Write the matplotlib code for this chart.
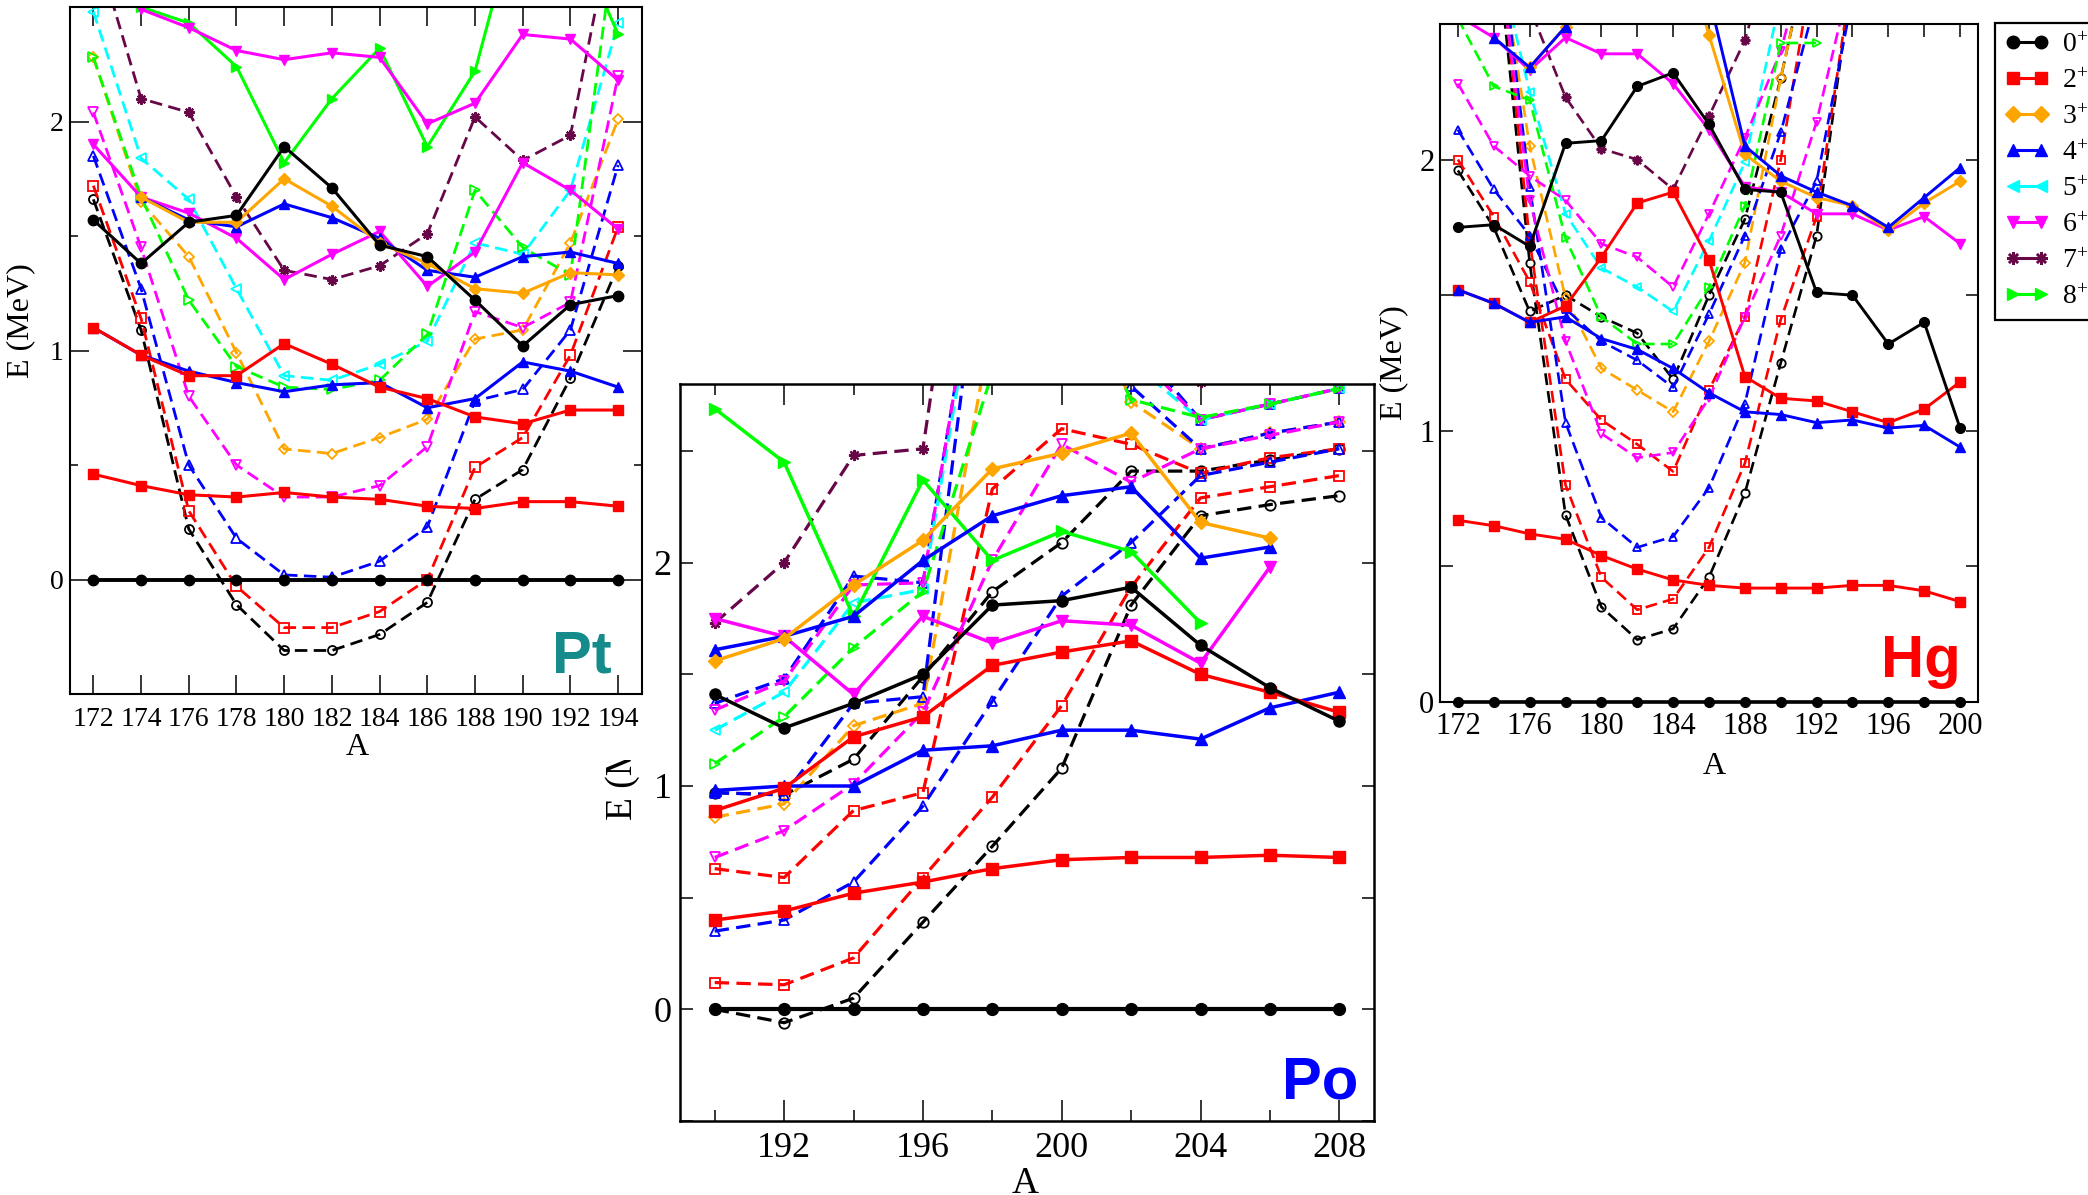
import numpy as np
import matplotlib
matplotlib.use("Agg")
import matplotlib.pyplot as plt
from matplotlib.lines import Line2D
from matplotlib.patches import Rectangle
from matplotlib.ticker import MultipleLocator

nan = np.nan

# ---------------- Pt ----------------
pt_A = [172, 174, 176, 178, 180, 182, 184, 186, 188, 190, 192, 194]
pt_g0 = [0, 0, 0, 0, 0, 0, 0, 0, 0, 0, 0, 0]
pt_0 = [1.57, 1.38, 1.56, 1.59, 1.89, 1.71, 1.46, 1.41, 1.22, 1.02, 1.20, 1.24]
pt_2a = [0.46, 0.41, 0.37, 0.36, 0.38, 0.36, 0.35, 0.32, 0.31, 0.34, 0.34, 0.32]
pt_2b = [1.10, 0.98, 0.89, 0.89, 1.03, 0.94, 0.84, 0.79, 0.71, 0.68, 0.74, 0.74]
pt_3 = [nan, 1.67, 1.56, 1.56, 1.75, 1.63, 1.47, 1.38, 1.27, 1.25, 1.34, 1.33]
pt_4a = [1.10, 0.98, 0.91, 0.86, 0.82, 0.85, 0.86, 0.75, 0.79, 0.95, 0.91, 0.84]
pt_4b = [nan, 1.67, 1.57, 1.54, 1.64, 1.58, 1.49, 1.35, 1.32, 1.41, 1.43, 1.38]
pt_6a = [1.90, 1.67, 1.60, 1.49, 1.31, 1.42, 1.52, 1.28, 1.43, 1.82, 1.70, 1.53]
pt_6b = [nan, 2.49, 2.41, 2.31, 2.27, 2.30, 2.28, 1.99, 2.08, 2.38, 2.36, 2.18]
pt_8 = [nan, 2.50, 2.43, 2.24, 1.82, 2.10, 2.32, 1.89, 2.22, 3.00, 2.86, 2.38]
pt_7 = [2.80, 2.10, 2.04, 1.67, 1.35, 1.31, 1.37, 1.51, 2.02, 1.83, 1.94, 2.98]
pt_d0 = [1.66, 1.09, 0.22, -0.11, -0.31, -0.31, -0.24, -0.10, 0.35, 0.48, 0.88, 1.37]
pt_d2 = [1.72, 1.14, 0.30, -0.03, -0.21, -0.21, -0.14, 0.00, 0.49, 0.62, 0.98, 1.54]
pt_d3 = [2.28, 1.65, 1.41, 0.99, 0.57, 0.55, 0.62, 0.70, 1.05, 1.09, 1.47, 2.01]
pt_d4 = [1.85, 1.27, 0.50, 0.18, 0.02, 0.01, 0.08, 0.23, 0.78, 0.83, 1.09, 1.81]
pt_d5 = [2.48, 1.84, 1.66, 1.27, 0.89, 0.87, 0.94, 1.04, 1.47, 1.42, 1.70, 2.43]
pt_d6 = [2.04, 1.45, 0.80, 0.50, 0.36, 0.36, 0.41, 0.58, 1.17, 1.10, 1.21, 2.20]
pt_d8 = [2.28, 1.67, 1.22, 0.93, 0.84, 0.83, 0.87, 1.07, 1.70, 1.45, 1.33, 2.90]

# ---------------- Po ----------------
po_A = [190, 192, 194, 196, 198, 200, 202, 204, 206, 208]
po_g0 = [0, 0, 0, 0, 0, 0, 0, 0, 0, 0]
po_0 = [1.41, 1.26, 1.37, 1.50, 1.81, 1.83, 1.89, 1.63, 1.44, 1.29]
po_2a = [0.40, 0.44, 0.52, 0.57, 0.63, 0.67, 0.68, 0.68, 0.69, 0.68]
po_2b = [0.89, 0.99, 1.22, 1.31, 1.54, 1.60, 1.65, 1.50, 1.42, 1.33]
po_3 = [1.56, 1.66, 1.90, 2.10, 2.42, 2.49, 2.58, 2.18, 2.11, nan]
po_4a = [0.98, 1.00, 1.00, 1.16, 1.18, 1.25, 1.25, 1.21, 1.35, 1.42]
po_4b = [1.61, 1.67, 1.76, 2.01, 2.21, 2.30, 2.34, 2.02, 2.07, nan]
po_6 = [1.75, 1.67, 1.41, 1.76, 1.64, 1.74, 1.72, 1.55, 1.98, nan]
po_8 = [2.69, 2.45, 1.76, 2.37, 2.01, 2.14, 2.05, 1.73, nan, nan]
po_7 = [1.73, 2.00, 2.48, 2.51, 4.60, 4.00, 3.50, 2.81, 3.20, 3.40]
po_d0a = [0.00, -0.06, 0.05, 0.39, 0.73, 1.08, 1.81, 2.21, 2.26, 2.30]
po_d0b = [0.97, 0.96, 1.12, 1.49, 1.87, 2.09, 2.41, 2.41, 2.46, 2.51]
po_d2a = [0.12, 0.11, 0.23, 0.59, 0.95, 1.36, 1.89, 2.29, 2.34, 2.39]
po_d2b = [0.63, 0.59, 0.89, 0.97, 2.33, 2.60, 2.53, 2.40, 2.47, 2.51]
po_d3 = [0.86, 0.92, 1.27, 1.37, 3.08, 3.50, 2.72, 2.51, 2.58, 2.63]
po_d4a = [0.35, 0.40, 0.57, 0.91, 1.38, 1.85, 2.09, 2.39, 2.45, 2.51]
po_d4b = [0.97, 0.96, 1.37, 1.40, 3.85, 3.50, 2.79, 2.51, 2.58, 2.63]
po_d4c = [1.37, 1.48, 1.94, 1.91, 3.80, 3.60, 3.00, 2.64, 2.71, 2.78]
po_d5 = [1.25, 1.42, 1.82, 1.88, 3.70, 3.50, 2.90, 2.64, 2.71, 2.78]
po_d6a = [0.68, 0.80, 1.01, 1.33, 2.01, 2.53, 2.36, 2.51, 2.57, 2.63]
po_d6b = [1.34, 1.47, 1.90, 1.91, 3.80, 3.60, 2.95, 2.64, 2.71, 2.78]
po_d8 = [1.10, 1.31, 1.62, 1.87, 2.85, 3.37, 2.73, 2.65, 2.71, 2.78]

# ---------------- Hg ----------------
hg_A = [172, 174, 176, 178, 180, 182, 184, 186, 188, 190, 192, 194, 196, 198, 200]
hg_g0 = [0, 0, 0, 0, 0, 0, 0, 0, 0, 0, 0, 0, 0, 0, 0]
hg_0 = [1.75, 1.76, 1.68, 2.06, 2.07, 2.27, 2.32, 2.13, 1.89, 1.88, 1.51, 1.50, 1.32, 1.40, 1.01]
hg_2a = [0.67, 0.65, 0.62, 0.60, 0.54, 0.49, 0.45, 0.43, 0.42, 0.42, 0.42, 0.43, 0.43, 0.41, 0.37]
hg_2b = [1.52, 1.47, 1.40, 1.46, 1.64, 1.84, 1.88, 1.63, 1.20, 1.12, 1.11, 1.07, 1.03, 1.08, 1.18]
hg_3 = [nan, nan, 2.34, 2.49, 2.90, 3.10, 2.90, 2.46, 2.02, 1.92, 1.86, 1.83, 1.74, 1.84, 1.92]
hg_4a = [1.52, 1.47, 1.40, 1.42, 1.34, 1.30, 1.23, 1.14, 1.07, 1.06, 1.03, 1.04, 1.01, 1.02, 0.94]
hg_4b = [nan, 2.45, 2.34, 2.49, 2.80, 3.00, 2.90, 2.60, 2.05, 1.94, 1.88, 1.83, 1.75, 1.86, 1.97]
hg_6 = [2.53, 2.45, 2.33, 2.45, 2.39, 2.39, 2.28, 2.11, 1.90, 1.88, 1.80, 1.80, 1.74, 1.79, 1.69]
hg_7 = [3.20, 2.90, 2.56, 2.23, 2.04, 2.00, 1.89, 2.16, 2.44, 2.90, nan, nan, nan, nan, nan]
hg_d0a = [nan, 2.90, 1.62, 0.69, 0.35, 0.23, 0.27, 0.46, 0.77, 1.25, 1.72, 2.69, nan, nan, nan]
hg_d0b = [1.96, 1.75, 1.44, 1.50, 1.42, 1.36, 1.19, 1.50, 1.78, 2.30, 2.90, nan, nan, nan, nan]
hg_d2a = [nan, 3.00, 1.70, 0.80, 0.46, 0.34, 0.38, 0.57, 0.88, 1.41, 1.79, 2.70, nan, nan, nan]
hg_d2b = [2.00, 1.79, 1.55, 1.19, 1.04, 0.95, 0.85, 1.15, 1.42, 2.00, 2.80, nan, nan, nan, nan]
hg_d3 = [nan, 2.90, 2.05, 1.49, 1.23, 1.15, 1.07, 1.33, 1.62, 2.30, 2.90, nan, nan, nan, nan]
hg_d4a = [nan, 3.00, 1.90, 1.03, 0.68, 0.57, 0.61, 0.79, 1.10, 1.67, 1.92, 2.60, nan, nan, nan]
hg_d4b = [2.11, 1.89, 1.72, 1.45, 1.33, 1.26, 1.16, 1.43, 1.72, 2.10, 2.60, nan, nan, nan, nan]
hg_d5 = [nan, 2.80, 2.25, 1.80, 1.60, 1.53, 1.44, 1.70, 1.99, 2.60, nan, nan, nan, nan, nan]
hg_d6a = [2.28, 2.05, 1.94, 1.85, 1.69, 1.64, 1.53, 1.80, 2.08, 2.40, 2.90, nan, nan, nan, nan]
hg_d6b = [nan, 2.90, 1.85, 1.33, 0.99, 0.90, 0.92, 1.12, 1.42, 1.72, 2.14, 2.70, nan, nan, nan]
hg_d8 = [2.52, 2.27, 2.22, 1.71, 1.42, 1.32, 1.32, 1.53, 1.83, 2.43, 2.43, nan, nan, nan, nan]

spins = [0, 2, 3, 4, 5, 6, 7, 8]

colors = {0: "black", 2: "#ff0000", 3: "#ffa500", 4: "#0000ff", 5: "#00ffff",
          6: "#ff00ff", 7: "#670748", 8: "#00ff00"}
markers = {0: "o", 2: "s", 3: "D", 4: "^", 5: "<", 6: "v", 7: (8, 2, 0), 8: ">"}

plt.rcParams["font.family"] = "Liberation Serif"
plt.rcParams["mathtext.fontset"] = "custom"
plt.rcParams["mathtext.rm"] = "Liberation Serif"
plt.rcParams["mathtext.it"] = "Liberation Serif:italic"

W, H = 2088, 1195
fig = plt.figure(figsize=(W / 100, H / 100), dpi=100)


def box(left, top, right, bottom):
    # pixel box -> figure fraction
    return [left / W, 1 - bottom / H, (right - left) / W, (bottom - top) / H]


def draw_set(ax, A, E, J, dashed, st):
    col = colors[J]
    mk = markers[J]
    ms = st["ms_open"] if dashed else st["ms"]
    if J == 3:
        ms *= 0.85
    face = "none" if (dashed and J != 7) else col
    mew = 1.6 if J == 7 else (1.3 if dashed else 1.0)
    ls = (0, (4.5, 2.3)) if (dashed or J == 7) else "-"
    lw = st["lw_dash"] if (dashed or J == 7) else st["lw"]
    ax.plot(A, E, ls=ls, lw=lw, color=col, marker=mk, ms=ms,
            mfc=face, mec=col, mew=mew)


def style_axes(ax, st):
    for s in ax.spines.values():
        s.set_linewidth(st["spine"])
    ax.tick_params(which="both", direction="in", top=True, right=True,
                   width=1.1, labelsize=st["tick_fs"])
    ax.tick_params(which="major", length=st["maj"])
    ax.tick_params(which="minor", length=st["min"])
    ax.tick_params(axis="x", pad=st["xpad"])
    ax.tick_params(axis="y", pad=st["ypad"])


# ---------- Po (drawn underneath the Pt frame) ----------
po_st = dict(lw=2.5, lw_dash=2.3, ms=8, ms_open=7.5, spine=1.8, tick_fs=26,
             maj=15, min=8, xpad=8, ypad=6)
ax_po = fig.add_axes(box(680, 384, 1374, 1121), zorder=1)
for vals, J in [(po_d0a, 0), (po_d0b, 0), (po_d2a, 2), (po_d2b, 2), (po_d3, 3),
                (po_d4a, 4), (po_d4b, 4), (po_d4c, 4), (po_d5, 5), (po_d6a, 6),
                (po_d6b, 6), (po_d8, 8)]:
    draw_set(ax_po, po_A, vals, J, True, po_st)
draw_set(ax_po, po_A, po_7, 7, False, po_st)
for vals, J in [(po_8, 8), (po_6, 6), (po_4a, 4), (po_4b, 4), (po_3, 3),
                (po_2a, 2), (po_2b, 2), (po_0, 0)]:
    draw_set(ax_po, po_A, vals, J, False, po_st)
ax_po.plot(po_A, po_g0, color="black", lw=3.0, marker="o", ms=8.5)
ax_po.set_xlim(189, 209)
ax_po.set_ylim(-0.5, 2.8)
ax_po.xaxis.set_major_locator(MultipleLocator(4))
ax_po.xaxis.set_minor_locator(MultipleLocator(2))
ax_po.yaxis.set_major_locator(MultipleLocator(1))
ax_po.yaxis.set_minor_locator(MultipleLocator(0.5))
style_axes(ax_po, po_st)
ax_po.tick_params(axis="y", which="both", length=9)
ax_po.set_xlabel("A", fontsize=27)
ax_po.xaxis.set_label_coords(0.497, -0.062)
ax_po.set_ylabel("E (MeV)", fontsize=27)
ax_po.yaxis.set_label_coords(-0.058, 0.5)
ax_po.text(0.977, 0.031, "Po", transform=ax_po.transAxes, ha="right",
           va="baseline", fontsize=43, fontweight="bold",
           family="Liberation Sans", color="#0000ff")

# white backing of the Pt frame
fig.add_artist(Rectangle((0, 1 - 760 / H), 652 / W, 760 / H,
                         transform=fig.transFigure, facecolor="white",
                         edgecolor="none", zorder=2))

# ---------- Pt ----------
pt_st = dict(lw=2.2, lw_dash=2.0, ms=7.5, ms_open=6.5, spine=1.5, tick_fs=20,
             maj=14, min=6, xpad=9, ypad=4)
ax_pt = fig.add_axes(box(69.5, 7, 642, 694), zorder=3)
for vals, J in [(pt_d0, 0), (pt_d2, 2), (pt_d3, 3), (pt_d4, 4), (pt_d5, 5),
                (pt_d6, 6), (pt_d8, 8)]:
    draw_set(ax_pt, pt_A, vals, J, True, pt_st)
draw_set(ax_pt, pt_A, pt_7, 7, False, pt_st)
for vals, J in [(pt_8, 8), (pt_6b, 6), (pt_6a, 6), (pt_4b, 4), (pt_3, 3),
                (pt_4a, 4), (pt_2b, 2), (pt_2a, 2), (pt_0, 0)]:
    draw_set(ax_pt, pt_A, vals, J, False, pt_st)
ax_pt.plot(pt_A, pt_g0, color="black", lw=2.8, marker="o", ms=7.5)
ax_pt.set_xlim(171, 195)
ax_pt.set_ylim(-0.5, 2.5)
ax_pt.xaxis.set_major_locator(MultipleLocator(2))
ax_pt.yaxis.set_major_locator(MultipleLocator(1))
ax_pt.yaxis.set_minor_locator(MultipleLocator(0.5))
style_axes(ax_pt, pt_st)
ax_pt.set_xlabel("A", fontsize=23)
ax_pt.xaxis.set_label_coords(0.502, -0.057)
ax_pt.set_ylabel("E (MeV)", fontsize=23)
ax_pt.yaxis.set_label_coords(-0.060, 0.543)
ax_pt.text(0.9476, 0.0306, "Pt", transform=ax_pt.transAxes, ha="right",
           va="baseline", fontsize=43, fontweight="bold",
           family="Liberation Sans", color="#168b8b")

# ---------- Hg ----------
hg_st = dict(lw=2.1, lw_dash=1.9, ms=7, ms_open=6, spine=1.5, tick_fs=22,
             maj=9, min=9, xpad=7, ypad=4)
ax_hg = fig.add_axes(box(1440, 24, 1978, 702), zorder=3)
for vals, J in [(hg_d0a, 0), (hg_d0b, 0), (hg_d2a, 2), (hg_d2b, 2), (hg_d3, 3),
                (hg_d4a, 4), (hg_d4b, 4), (hg_d5, 5), (hg_d6a, 6), (hg_d6b, 6),
                (hg_d8, 8)]:
    draw_set(ax_hg, hg_A, vals, J, True, hg_st)
draw_set(ax_hg, hg_A, hg_7, 7, False, hg_st)
for vals, J in [(hg_6, 6), (hg_3, 3), (hg_4b, 4), (hg_2b, 2), (hg_4a, 4),
                (hg_2a, 2), (hg_0, 0)]:
    draw_set(ax_hg, hg_A, vals, J, False, hg_st)
ax_hg.plot(hg_A, hg_g0, color="black", lw=2.6, marker="o", ms=7, clip_on=False)
ax_hg.set_xlim(171, 201)
ax_hg.set_ylim(0, 2.5)
ax_hg.xaxis.set_major_locator(MultipleLocator(4))
ax_hg.xaxis.set_minor_locator(MultipleLocator(2))
ax_hg.yaxis.set_major_locator(MultipleLocator(1))
ax_hg.yaxis.set_minor_locator(MultipleLocator(0.5))
style_axes(ax_hg, hg_st)
ax_hg.tick_params(axis="x", which="both", bottom=False, labelbottom=True)
ax_hg.set_xlabel("A", fontsize=23)
ax_hg.xaxis.set_label_coords(0.51, -0.074)
ax_hg.set_ylabel("E (MeV)", fontsize=23)
ax_hg.yaxis.set_label_coords(-0.059, 0.5)
ax_hg.text(0.968, 0.037, "Hg", transform=ax_hg.transAxes, ha="right",
           va="baseline", fontsize=43, fontweight="bold",
           family="Liberation Sans", color="#ff0000")

# ---------- legend ----------
handles = []
for J in spins:
    handles.append(Line2D([0], [0], color=colors[J], lw=2.2, marker=markers[J],
                          ms=9 if J != 3 else 8, mfc=colors[J], mec=colors[J],
                          mew=1.8 if J == 7 else 1.0))
labels = [r"$\mathrm{%d}^{+}$" % J for J in spins]
leg = fig.legend(handles, labels, loc="upper left",
                 bbox_to_anchor=(1995 / W, 1 - 23 / H),
                 bbox_transform=fig.transFigure, numpoints=2, fontsize=20,
                 frameon=True, fancybox=False, edgecolor="black", framealpha=1,
                 borderpad=0.35, handlelength=1.6, handletextpad=0.45,
                 labelspacing=0.38, borderaxespad=0)
leg.get_frame().set_linewidth(1.6)

fig.savefig("out.png", dpi=100)
